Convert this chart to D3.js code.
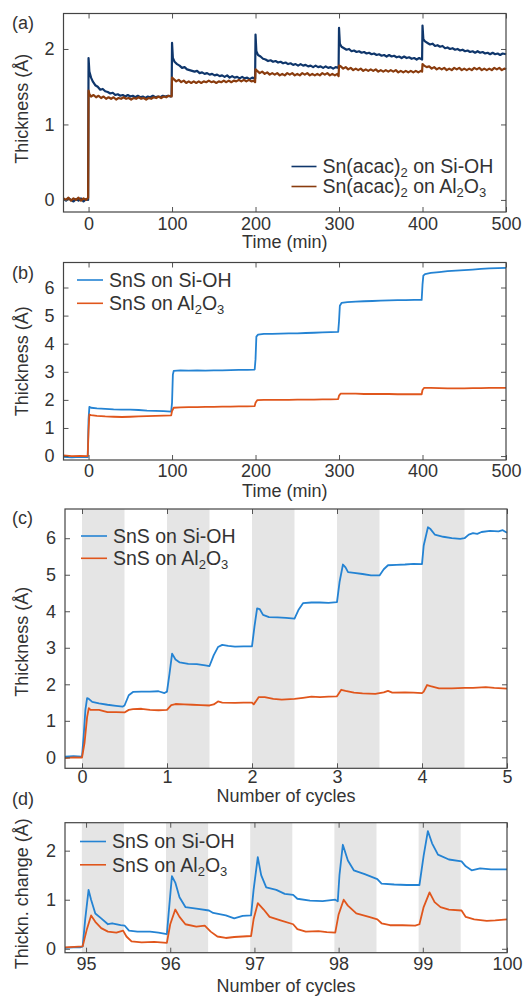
<!DOCTYPE html>
<html>
<head>
<meta charset="utf-8">
<script src="https://cdn.jsdelivr.net/npm/d3@7"></script>
<style>
  body { margin: 0; background: #fff; }
  svg text { font-family: "Liberation Sans", Arial, sans-serif; fill: #333; }
</style>
</head>
<body>
<div id="chart"></div>
<script>
// 1: DATA
// panel (a): Sn(acac)2 exposure, thickness vs time (min)
const aSiOH = [[-30,0.01],[-27,-0.01],[-24,0.02],[-21,0.0],[-18,-0.02],[-15,0.01],[-12,-0.01],[-9,0.02],[-6,-0.02],[-3,0.01],[-0.5,0.0],
  [0,1.88],[1,1.7],[3,1.62],[5,1.57],[8,1.52],[11,1.5],[14,1.46],[17,1.47],[20,1.44],[23,1.43],[26,1.41],[29,1.42],[32,1.39],[35,1.4],[38,1.38],[41,1.39],[44,1.37],[47,1.39],[50,1.37],[53,1.38],[56,1.36],[59,1.38],[62,1.36],[65,1.37],[68,1.35],[71,1.37],[74,1.36],[77,1.38],[80,1.36],[83,1.37],[86,1.36],[89,1.38],[92,1.37],[95,1.38],[98,1.37],[99.5,1.38],
  [100,2.08],[101,1.88],[103,1.83],[106,1.8],[109,1.78],[112,1.75],[115,1.76],[118,1.73],[121,1.72],[124,1.71],[127,1.7],[130,1.71],[133,1.68],[136,1.69],[139,1.67],[142,1.68],[145,1.66],[148,1.67],[151,1.65],[154,1.66],[157,1.64],[160,1.65],[163,1.63],[166,1.65],[169,1.62],[172,1.64],[175,1.62],[178,1.63],[181,1.61],[184,1.63],[187,1.61],[190,1.62],[193,1.6],[196,1.62],[199.5,1.61],
  [200,2.19],[201,1.97],[203,1.92],[206,1.9],[209,1.87],[212,1.86],[215,1.84],[218,1.85],[221,1.83],[224,1.84],[227,1.82],[230,1.83],[233,1.81],[236,1.82],[239,1.8],[242,1.81],[245,1.79],[248,1.8],[251,1.78],[254,1.8],[257,1.78],[260,1.79],[263,1.77],[266,1.78],[269,1.76],[272,1.78],[275,1.76],[278,1.77],[281,1.75],[284,1.77],[287,1.75],[290,1.76],[293,1.74],[296,1.76],[299.5,1.75],
  [300,2.28],[301,2.07],[303,2.03],[306,2.01],[309,1.99],[312,2.0],[315,1.97],[318,1.98],[321,1.96],[324,1.97],[327,1.95],[330,1.96],[333,1.94],[336,1.95],[339,1.93],[342,1.94],[345,1.92],[348,1.93],[351,1.91],[354,1.92],[357,1.9],[360,1.92],[363,1.9],[366,1.91],[369,1.89],[372,1.9],[375,1.88],[378,1.9],[381,1.88],[384,1.89],[387,1.87],[390,1.88],[393,1.86],[396,1.88],[399.5,1.86],
  [400,2.31],[401,2.13],[403,2.1],[406,2.08],[409,2.06],[412,2.07],[415,2.04],[418,2.05],[421,2.03],[424,2.04],[427,2.01],[430,2.02],[433,2.0],[436,2.01],[439,1.99],[442,2.0],[445,1.98],[448,1.99],[451,1.97],[454,1.98],[457,1.96],[460,1.97],[463,1.95],[466,1.97],[469,1.95],[472,1.96],[475,1.94],[478,1.95],[481,1.93],[484,1.95],[487,1.93],[490,1.94],[493,1.92],[496,1.94],[500,1.93]];
const aAl2O3 = [[-30,0.02],[-27,0.0],[-24,0.03],[-21,-0.01],[-18,0.02],[-15,0.0],[-12,0.03],[-9,-0.01],[-6,0.02],[-3,0.0],[-0.5,0.03],
  [0,1.45],[1,1.4],[3,1.37],[6,1.39],[9,1.36],[12,1.38],[15,1.35],[18,1.37],[21,1.34],[24,1.36],[27,1.34],[30,1.36],[33,1.33],[36,1.35],[39,1.34],[42,1.36],[45,1.34],[48,1.35],[51,1.33],[54,1.35],[57,1.34],[60,1.36],[63,1.34],[66,1.35],[69,1.33],[72,1.35],[75,1.34],[78,1.36],[81,1.35],[84,1.37],[87,1.35],[90,1.37],[93,1.36],[96,1.38],[99.5,1.37],
  [100,1.62],[102,1.6],[105,1.57],[108,1.59],[111,1.56],[114,1.58],[117,1.55],[120,1.57],[123,1.55],[126,1.57],[129,1.55],[132,1.57],[135,1.55],[138,1.57],[141,1.56],[144,1.58],[147,1.56],[150,1.57],[153,1.55],[156,1.57],[159,1.56],[162,1.58],[165,1.56],[168,1.58],[171,1.56],[174,1.58],[177,1.57],[180,1.59],[183,1.57],[186,1.59],[189,1.57],[192,1.59],[195,1.57],[198,1.58],[199.5,1.56],
  [200,1.73],[202,1.71],[205,1.68],[208,1.7],[211,1.67],[214,1.69],[217,1.66],[220,1.68],[223,1.66],[226,1.68],[229,1.65],[232,1.67],[235,1.65],[238,1.68],[241,1.66],[244,1.68],[247,1.65],[250,1.67],[253,1.65],[256,1.68],[259,1.66],[262,1.68],[265,1.65],[268,1.67],[271,1.65],[274,1.67],[277,1.65],[280,1.68],[283,1.66],[286,1.68],[289,1.65],[292,1.67],[295,1.65],[298,1.67],[299.5,1.64],
  [300,1.78],[302,1.77],[305,1.74],[308,1.76],[311,1.73],[314,1.75],[317,1.72],[320,1.74],[323,1.72],[326,1.74],[329,1.71],[332,1.73],[335,1.71],[338,1.73],[341,1.71],[344,1.73],[347,1.7],[350,1.72],[353,1.7],[356,1.72],[359,1.7],[362,1.72],[365,1.7],[368,1.72],[371,1.69],[374,1.71],[377,1.69],[380,1.71],[383,1.69],[386,1.71],[389,1.69],[392,1.71],[395,1.69],[398,1.71],[399.5,1.7],
  [400,1.8],[402,1.78],[405,1.76],[408,1.77],[411,1.74],[414,1.76],[417,1.73],[420,1.75],[423,1.73],[426,1.75],[429,1.72],[432,1.74],[435,1.72],[438,1.75],[441,1.73],[444,1.75],[447,1.72],[450,1.74],[453,1.72],[456,1.74],[459,1.72],[462,1.75],[465,1.73],[468,1.75],[471,1.72],[474,1.74],[477,1.72],[480,1.74],[483,1.72],[486,1.75],[489,1.73],[492,1.75],[495,1.72],[498,1.74],[500,1.73]];

// panel (b): SnS, thickness vs time (min)
const bSiOH = [[-30,-0.03],[-20,-0.05],[-10,-0.03],[-1,-0.04],[0,1.3],[1,1.75],[3,1.72],[10,1.7],[20,1.68],[30,1.66],[40,1.65],[50,1.65],[60,1.64],[70,1.62],[80,1.61],[90,1.6],[99,1.58],
  [100,1.9],[101,2.9],[102,3.03],[110,3.05],[120,3.04],[130,3.05],[140,3.04],[150,3.05],[160,3.05],[170,3.06],[180,3.07],[190,3.07],[199,3.08],
  [200,3.45],[201,4.25],[203,4.32],[210,4.35],[220,4.35],[230,4.36],[240,4.37],[250,4.37],[260,4.38],[270,4.39],[280,4.4],[290,4.41],[299,4.42],
  [300,4.8],[301,5.35],[303,5.45],[310,5.48],[320,5.5],[330,5.51],[340,5.52],[350,5.53],[360,5.54],[370,5.55],[380,5.55],[390,5.56],[399,5.56],
  [400,6.1],[401,6.42],[403,6.48],[410,6.52],[420,6.55],[430,6.58],[440,6.6],[450,6.62],[460,6.64],[470,6.66],[480,6.68],[490,6.69],[500,6.7]];
const bAl2O3 = [[-30,0.02],[-20,0.0],[-10,0.01],[-1,0.0],[0,0.9],[1,1.48],[3,1.46],[10,1.43],[20,1.41],[30,1.4],[40,1.39],[50,1.4],[60,1.41],[70,1.42],[80,1.43],[90,1.44],[99,1.45],
  [100,1.6],[102,1.72],[110,1.73],[120,1.74],[130,1.74],[140,1.75],[150,1.75],[160,1.76],[170,1.76],[180,1.77],[190,1.77],[199,1.78],
  [200,1.9],[202,1.99],[210,2.0],[220,2.0],[230,2.0],[240,2.0],[250,2.01],[260,2.01],[270,2.01],[280,2.02],[290,2.02],[299,2.03],
  [300,2.15],[302,2.22],[310,2.22],[320,2.22],[330,2.21],[340,2.21],[350,2.21],[360,2.21],[370,2.2],[380,2.2],[390,2.2],[399,2.2],
  [400,2.35],[402,2.43],[410,2.43],[420,2.42],[430,2.41],[440,2.41],[450,2.41],[460,2.42],[470,2.42],[480,2.43],[490,2.43],[500,2.43]];

// panel (c): SnS, thickness vs number of cycles (first 5)
const cSiOH = [[-0.2,0.02],[-0.1,0.03],[0,0.02],[0.02,0.6],[0.04,1.3],[0.06,1.62],[0.08,1.6],[0.12,1.52],[0.2,1.48],[0.3,1.44],[0.4,1.41],[0.48,1.39],
  [0.5,1.42],[0.55,1.7],[0.6,1.79],[0.7,1.8],[0.8,1.8],[0.9,1.81],[0.97,1.76],[1.0,1.8],[1.03,2.3],[1.06,2.84],[1.1,2.68],[1.15,2.6],[1.25,2.56],[1.35,2.55],[1.45,2.52],[1.5,2.5],
  [1.55,2.8],[1.6,3.02],[1.65,3.08],[1.72,3.05],[1.8,3.03],[1.9,3.04],[2.0,3.04],[2.03,3.6],[2.06,4.08],[2.09,4.06],[2.13,3.9],[2.2,3.84],[2.3,3.83],[2.4,3.82],[2.5,3.8],
  [2.55,4.05],[2.6,4.22],[2.7,4.24],[2.8,4.24],[2.9,4.23],[3.0,4.25],[3.03,4.8],[3.07,5.28],[3.1,5.2],[3.13,5.07],[3.2,5.05],[3.3,5.02],[3.4,4.98],[3.5,4.98],
  [3.55,5.15],[3.6,5.26],[3.7,5.27],[3.8,5.28],[3.9,5.3],[4.0,5.29],[4.02,5.8],[4.07,6.3],[4.1,6.25],[4.15,6.1],[4.25,6.04],[4.35,6.0],[4.45,5.98],[4.5,6.0],
  [4.55,6.1],[4.6,6.14],[4.65,6.12],[4.7,6.17],[4.8,6.2],[4.9,6.19],[4.95,6.22],[5.0,6.15]];
const cAl2O3 = [[-0.2,-0.02],[-0.1,0.0],[0,-0.01],[0.03,0.4],[0.06,1.1],[0.08,1.35],[0.1,1.3],[0.2,1.3],[0.3,1.24],[0.4,1.24],[0.5,1.23],
  [0.55,1.3],[0.6,1.32],[0.7,1.33],[0.8,1.3],[0.9,1.29],[1.0,1.3],[1.05,1.43],[1.1,1.46],[1.2,1.45],[1.3,1.44],[1.4,1.43],[1.5,1.42],
  [1.55,1.45],[1.6,1.53],[1.65,1.5],[1.8,1.49],[1.9,1.5],[2.0,1.5],[2.02,1.45],[2.08,1.65],[2.15,1.65],[2.25,1.6],[2.35,1.58],[2.5,1.6],
  [2.6,1.63],[2.7,1.66],[2.8,1.65],[2.9,1.66],[3.0,1.67],[3.05,1.85],[3.1,1.82],[3.2,1.77],[3.3,1.75],[3.45,1.74],
  [3.55,1.78],[3.6,1.82],[3.65,1.77],[3.8,1.78],[3.9,1.77],[4.0,1.76],[4.02,1.8],[4.06,1.98],[4.1,1.95],[4.2,1.89],[4.35,1.89],[4.5,1.9],
  [4.6,1.9],[4.75,1.92],[4.85,1.9],[5.0,1.88]];

// panel (d): SnS, thickness change vs number of cycles (95-100)
const dSiOH = [[94.75,0.02],[94.85,0.03],[94.93,0.03],[94.96,0.05],[94.99,0.6],[95.03,1.2],[95.06,1.0],[95.11,0.72],[95.18,0.62],[95.26,0.5],[95.31,0.52],[95.41,0.48],[95.46,0.47],
  [95.51,0.37],[95.61,0.35],[95.76,0.35],[95.86,0.33],[95.96,0.3],[95.98,0.7],[96.02,1.48],[96.06,1.35],[96.11,1.05],[96.18,0.85],[96.31,0.82],[96.46,0.78],
  [96.51,0.73],[96.66,0.68],[96.76,0.62],[96.86,0.67],[96.96,0.68],[96.99,1.2],[97.04,1.87],[97.08,1.5],[97.14,1.25],[97.26,1.2],[97.36,1.12],[97.46,1.1],
  [97.51,1.02],[97.66,0.98],[97.81,0.97],[97.96,1.0],[97.99,0.97],[98.01,1.5],[98.05,2.12],[98.11,1.8],[98.18,1.6],[98.31,1.52],[98.46,1.42],
  [98.51,1.33],[98.66,1.31],[98.81,1.3],[98.96,1.3],[99.01,1.9],[99.06,2.4],[99.11,2.15],[99.18,1.92],[99.31,1.82],[99.46,1.78],
  [99.51,1.68],[99.58,1.6],[99.68,1.64],[99.81,1.62],[100,1.62]];
const dAl2O3 = [[94.75,0.03],[94.86,0.04],[94.96,0.05],[95.01,0.4],[95.06,0.68],[95.11,0.55],[95.18,0.42],[95.26,0.35],[95.36,0.33],[95.44,0.37],
  [95.48,0.25],[95.54,0.15],[95.66,0.13],[95.81,0.14],[95.96,0.12],[96.0,0.5],[96.06,0.8],[96.11,0.65],[96.18,0.5],[96.31,0.45],[96.41,0.47],
  [96.48,0.35],[96.56,0.25],[96.66,0.22],[96.76,0.24],[96.86,0.25],[96.96,0.26],[96.99,0.6],[97.04,0.93],[97.11,0.8],[97.18,0.65],[97.31,0.58],[97.46,0.5],
  [97.51,0.4],[97.61,0.35],[97.76,0.36],[97.86,0.34],[97.96,0.33],[98.0,0.7],[98.06,1.0],[98.11,0.88],[98.21,0.72],[98.36,0.65],[98.46,0.6],
  [98.51,0.52],[98.61,0.48],[98.76,0.48],[98.91,0.47],[98.96,0.5],[99.01,0.85],[99.08,1.15],[99.14,0.95],[99.21,0.85],[99.31,0.8],[99.46,0.78],
  [99.51,0.65],[99.61,0.6],[99.76,0.57],[99.86,0.58],[100,0.6]];

// ticks and half-cycle shading (start of each grey band)
const timeTicks = [0, 100, 200, 300, 400, 500];
const cycleTicksC = [0, 1, 2, 3, 4, 5];
const cycleTicksD = [95, 96, 97, 98, 99, 100];
const bandsC = [0, 1, 2, 3, 4];
const bandsD = [94.95, 95.95, 96.95, 97.95, 98.95];

const darkBlue = "#0f366b", brown = "#8a3c0e";
const blue = "#2483d3", orange = "#e0561c";

// 2: SVG
const W = 527, H = 997;
const svg = d3.select("#chart").append("svg")
  .attr("width", W).attr("height", H);

const FS = 18;     // tick labels, axis titles
const LFS = 19.5;  // legend text

function panel(opt) {
  const x = d3.scaleLinear().domain(opt.xd).range([opt.left, opt.right]);
  const y = d3.scaleLinear().domain(opt.yd).range([opt.bottom, opt.top]);
  const g = svg.append("g");

  // shaded half cycles
  if (opt.bands) {
    g.selectAll("rect.band").data(opt.bands).enter().append("rect")
      .attr("class", "band")
      .attr("x", d => x(d))
      .attr("width", d => x(d + 0.5) - x(d))
      .attr("y", opt.top).attr("height", opt.bottom - opt.top)
      .attr("fill", "#e5e5e5");
  }

  // lines
  const line = d3.line().x(d => x(d[0])).y(d => y(d[1]));
  g.append("g")
    .selectAll("path").data(opt.series).enter().append("path")
    .attr("d", d => line(d.data))
    .attr("fill", "none")
    .attr("stroke", d => d.color)
    .attr("stroke-width", opt.lw)
    .attr("stroke-linejoin", "round");

  // axes, ticks pointing inward
  const fmt = d3.format("d");
  const ax = [
    [d3.axisBottom(x).tickValues(opt.xt).tickFormat(fmt).tickSizeInner(-5).tickSizeOuter(0).tickPadding(opt.xpad), opt.bottom, 0],
    [d3.axisTop(x).tickValues(opt.xt).tickSizeInner(-5).tickSizeOuter(0).tickFormat(""), opt.top, 0],
    [d3.axisLeft(y).tickValues(opt.yt).tickFormat(fmt).tickSizeInner(-5).tickSizeOuter(0).tickPadding(9), 0, opt.left],
    [d3.axisRight(y).tickValues(opt.yt).tickSizeInner(-5).tickSizeOuter(0).tickFormat(""), 0, opt.right]
  ];
  ax.forEach(([a, ty, tx]) => {
    const ag = g.append("g").attr("transform", `translate(${tx},${ty})`).call(a);
    ag.select(".domain").remove();
    ag.selectAll("line").attr("stroke", "#555").attr("stroke-width", 1);
    ag.selectAll("text").attr("font-size", FS)
      .attr("font-family", "Liberation Sans, Arial, sans-serif").attr("fill", "#333");
  });

  // frame
  g.append("rect")
    .attr("x", opt.left).attr("y", opt.top)
    .attr("width", opt.right - opt.left).attr("height", opt.bottom - opt.top)
    .attr("fill", "none").attr("stroke", "#444").attr("stroke-width", 1.2);

  // axis titles
  g.append("text")
    .attr("x", (opt.left + opt.right) / 2).attr("y", opt.xlabY)
    .attr("text-anchor", "middle").attr("font-size", FS)
    .text(opt.xlab);
  g.append("text")
    .attr("transform", `translate(22,${(opt.top + opt.bottom) / 2 + opt.ylabDy}) rotate(-90)`)
    .attr("text-anchor", "middle").attr("dy", "0.35em").attr("font-size", FS)
    .text(opt.ylab);

  // panel letter
  g.append("text").attr("x", 12).attr("y", opt.letterY)
    .attr("font-size", FS).text(opt.letter);

  // legend
  const lg = g.append("g").attr("transform", `translate(${opt.legX},${opt.legY})`);
  opt.series.forEach((s, i) => {
    const row = lg.append("g").attr("transform", `translate(0,${i * opt.legGap})`);
    row.append("line").attr("x1", 0).attr("x2", opt.legLen)
      .attr("stroke", s.color).attr("stroke-width", 1.6);
    const t = row.append("text").attr("x", opt.legLen + 6).attr("dy", "0.35em")
      .attr("font-size", LFS);
    s.label.forEach(part => {
      const ts = t.append("tspan").text(part[0]);
      if (part[1] === "sub") ts.attr("font-size", 13).attr("baseline-shift", "-30%");
    });
  });
}

// 3: PANELS
panel({
  letter: "(a)", letterY: 29,
  left: 63.5, right: 506, top: 13.5, bottom: 212,
  xd: [-30, 500], yd: [-0.16, 2.47], xt: timeTicks, yt: [0, 1, 2], xpad: 5,
  xlab: "Time (min)", xlabY: 248, ylab: "Thickness (Å)", ylabDy: -4, lw: 2.2,
  series: [
    { data: aSiOH, color: darkBlue, label: [["Sn(acac)"], ["2", "sub"], [" on Si-OH"]] },
    { data: aAl2O3, color: brown, label: [["Sn(acac)"], ["2", "sub"], [" on Al"], ["2", "sub"], ["O"], ["3", "sub"]] }
  ],
  legX: 291.5, legY: 166.5, legGap: 20, legLen: 25
});

panel({
  letter: "(b)", letterY: 279,
  left: 63.5, right: 506, top: 262.5, bottom: 460,
  xd: [-30, 500], yd: [-0.14, 6.89], xt: timeTicks, yt: [0, 1, 2, 3, 4, 5, 6], xpad: 4,
  xlab: "Time (min)", xlabY: 497, ylab: "Thickness (Å)", ylabDy: 0, lw: 1.8,
  series: [
    { data: bSiOH, color: blue, label: [["SnS on Si-OH"]] },
    { data: bAl2O3, color: orange, label: [["SnS on Al"], ["2", "sub"], ["O"], ["3", "sub"]] }
  ],
  legX: 77, legY: 280, legGap: 23.3, legLen: 26
});

panel({
  letter: "(c)", letterY: 524,
  left: 65, right: 507, top: 509, bottom: 768.3,
  xd: [-0.2, 5], yd: [-0.3, 6.8], xt: cycleTicksC, yt: [0, 1, 2, 3, 4, 5, 6], xpad: 2,
  bands: bandsC,
  xlab: "Number of cycles", xlabY: 802, ylab: "Thickness (Å)", ylabDy: 3, lw: 1.8,
  series: [
    { data: cSiOH, color: blue, label: [["SnS on Si-OH"]] },
    { data: cAl2O3, color: orange, label: [["SnS on Al"], ["2", "sub"], ["O"], ["3", "sub"]] }
  ],
  legX: 81, legY: 536, legGap: 22.3, legLen: 26
});

panel({
  letter: "(d)", letterY: 805,
  left: 65, right: 507, top: 822.7, bottom: 952.7,
  xd: [94.75, 100], yd: [-0.08, 2.57], xt: cycleTicksD, yt: [0, 1, 2], xpad: 5,
  bands: bandsD,
  xlab: "Number of cycles", xlabY: 992, ylab: "Thickn. change (Å)", ylabDy: 6, lw: 1.8,
  series: [
    { data: dSiOH, color: blue, label: [["SnS on Si-OH"]] },
    { data: dAl2O3, color: orange, label: [["SnS on Al"], ["2", "sub"], ["O"], ["3", "sub"]] }
  ],
  legX: 80, legY: 841.5, legGap: 23.3, legLen: 26
});
</script>
</body>
</html>
